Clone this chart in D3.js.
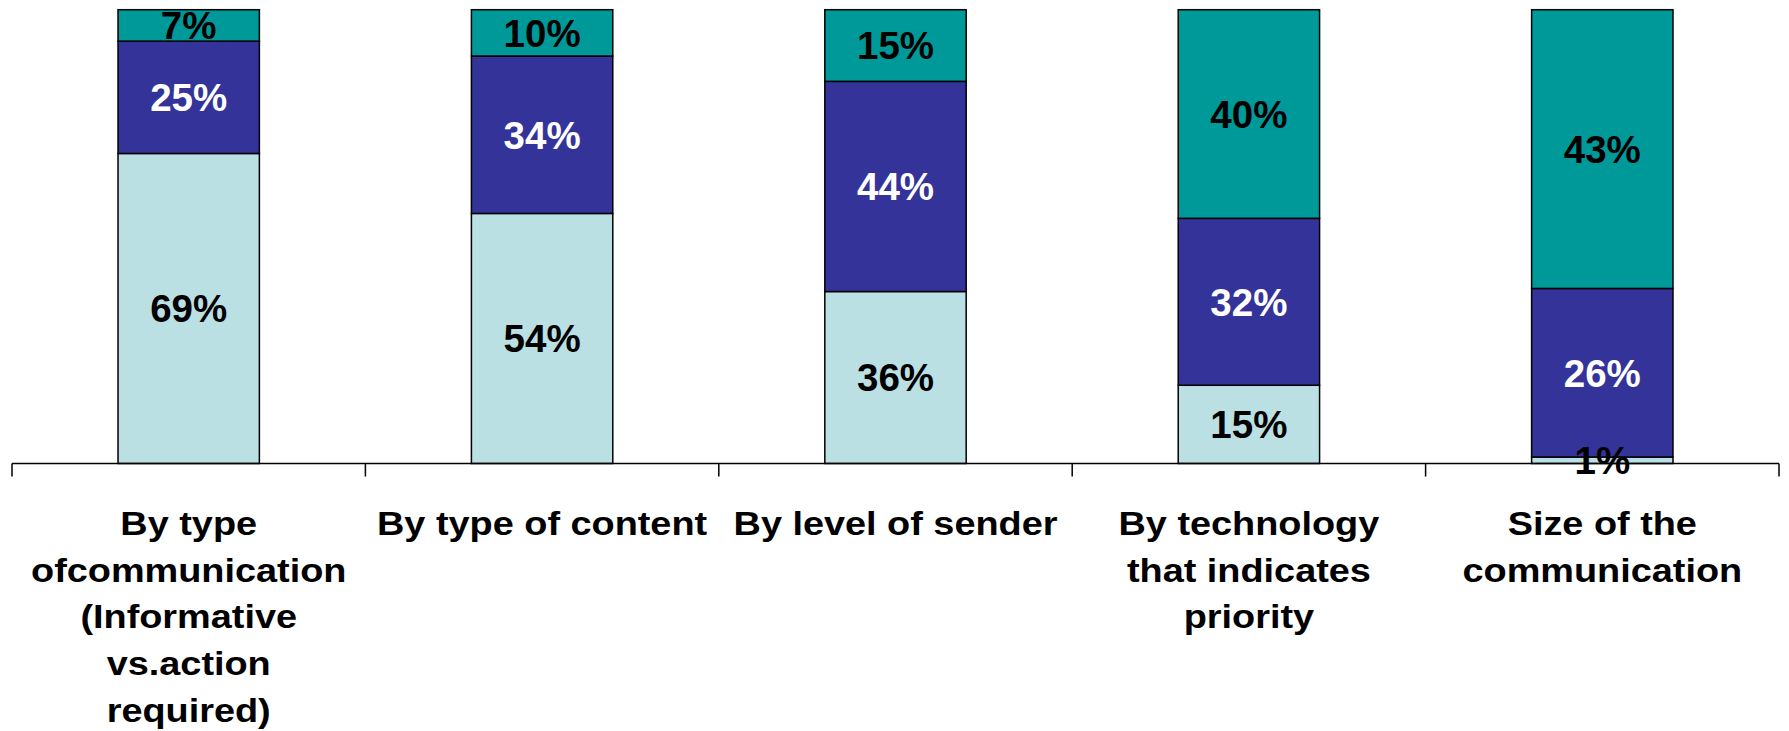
<!DOCTYPE html>
<html>
<head>
<meta charset="utf-8">
<script src="https://cdn.jsdelivr.net/npm/d3@7"></script>
<style>
  html, body { margin: 0; padding: 0; background: #fff; }
  svg { display: block; }
  text { font-family: "Liberation Sans", Arial, sans-serif; font-weight: bold; }
</style>
</head>
<body>
<svg id="chart" width="1789" height="731"></svg>
<script>
// Categories and their wrapped axis labels
const categories = ["type", "content", "sender", "technology", "size"];
const categoryLabels = [
  ["By type", "ofcommunication", "(Informative", "vs.action", "required)"],
  ["By type of content"],
  ["By level of sender"],
  ["By technology", "that indicates", "priority"],
  ["Size of the", "communication"]
];

// Series values (percent), bottom to top of each stack
const seriesKeys = ["low", "mid", "high"];
const lowValues  = [69, 54, 36, 15, 1];
const midValues  = [25, 34, 44, 32, 26];
const highValues = [7, 10, 15, 40, 43];

const seriesColors = { low: "#BBE0E3", mid: "#333399", high: "#009999" };
const labelColors  = { low: "#000000", mid: "#FFFFFF", high: "#000000" };

const rows = categories.map((c, i) => ({
  category: c, low: lowValues[i], mid: midValues[i], high: highValues[i]
}));

// 100% stacked layout
const stacked = d3.stack().keys(seriesKeys).offset(d3.stackOffsetExpand)(rows);

const svg = d3.select("#chart");

const x = d3.scaleBand()
  .domain(categories)
  .range([12, 1779])
  .paddingInner(0.6)
  .paddingOuter(0.3);

const y = d3.scaleLinear().domain([0, 1]).range([463.5, 9.7]);

// Bars
const layers = svg.append("g").selectAll("g")
  .data(stacked)
  .join("g")
  .attr("fill", d => seriesColors[d.key]);

layers.selectAll("rect")
  .data(d => d)
  .join("rect")
  .attr("x", d => x(d.data.category))
  .attr("width", x.bandwidth())
  .attr("y", d => y(d[1]))
  .attr("height", d => y(d[0]) - y(d[1]))
  .attr("stroke", "#000")
  .attr("stroke-width", 1.5);

// Axis line with ticks between categories
const step = x.step();
const left = x.range()[0];
const axisY = y(0);
const axis = svg.append("g").attr("stroke", "#000").attr("stroke-width", 1.5);
axis.append("line")
  .attr("x1", left).attr("x2", x.range()[1])
  .attr("y1", axisY).attr("y2", axisY);
d3.range(categories.length + 1).forEach(i => {
  const tx = left + i * step;
  axis.append("line")
    .attr("x1", tx).attr("x2", tx)
    .attr("y1", axisY).attr("y2", axisY + 13);
});

// Value labels centred in each segment
const fontSize = 38.5;
stacked.forEach(layer => {
  svg.append("g").selectAll("text")
    .data(layer)
    .join("text")
    .attr("x", d => x(d.data.category) + x.bandwidth() / 2)
    .attr("y", d => (y(d[0]) + y(d[1])) / 2 + fontSize * 0.358)
    .attr("text-anchor", "middle")
    .attr("font-size", fontSize)
    .attr("fill", labelColors[layer.key])
    .text(d => d.data[layer.key] + "%");
});

// Category labels under the axis
const labelG = svg.append("g");
categories.forEach((c, i) => {
  const cx = x(c) + x.bandwidth() / 2;
  const g = labelG.append("g")
    .attr("transform", `translate(${cx},535) scale(1.165,1)`);
  g.selectAll("text")
    .data(categoryLabels[i])
    .join("text")
    .attr("x", 0)
    .attr("y", (d, j) => j * 46.7)
    .attr("text-anchor", "middle")
    .attr("font-size", 32.5)
    .attr("fill", "#000")
    .text(d => d);
});
</script>
</body>
</html>
